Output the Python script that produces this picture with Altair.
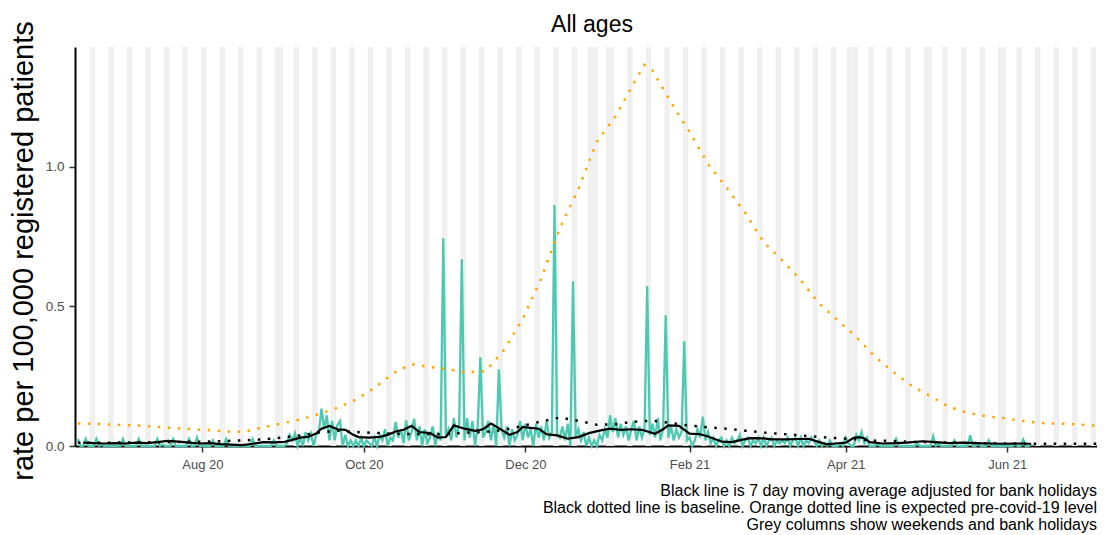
import altair as alt
import pandas as pd

# ---------------- data ----------------
teal_start = "2020-06-15"  # Monday; values below are daily, one row per week (Mon..Sun)
teal_daily = [
    0.025, 0.0, 0.0, 0.025, 0.0, 0.0, 0.0,
    0.025, 0.0, 0.005, 0.0, 0.0, 0.0, 0.0,
    0.0, 0.0, 0.0, 0.025, 0.0, 0.0, 0.0,
    0.0, 0.0, 0.025, 0.0, 0.0, 0.0, 0.0,
    0.0, 0.0, 0.025, 0.0, 0.005, 0.0, 0.0,
    0.0, 0.025, 0.0, 0.0, 0.0, 0.0, 0.0,
    0.025, 0.0, 0.0, 0.03, 0.0, 0.0, 0.0,
    0.0, 0.0, 0.02, 0.0, 0.0, 0.0, 0.0,
    0.025, 0.0, 0.0, 0.0, 0.0, 0.0, 0.0,
    0.0, 0.0, 0.0, 0.025, 0.0, 0.0, 0.0,
    0.0, 0.0, 0.0, 0.0, 0.02, 0.0, 0.0,
    0.0, 0.0, 0.01, 0.04, 0.02, 0.045, 0.0,
    0.03, 0.0, 0.05, 0.02, 0.045, 0.0, 0.04,
    0.05, 0.134, 0.06, 0.11, 0.02, 0.09, 0.02,
    0.075, 0.09, 0.0, 0.04, 0.0, 0.02, 0.0,
    0.02, 0.0, 0.03, 0.0, 0.02, 0.01, 0.0,
    0.03, 0.0, 0.04, 0.02, 0.06, 0.0, 0.03,
    0.02, 0.086, 0.03, 0.06, 0.01, 0.092, 0.02,
    0.05, 0.098, 0.02, 0.07, 0.0, 0.06, 0.01,
    0.03, 0.07, 0.0, 0.05, 0.02, 0.744, 0.03,
    0.06, 0.02, 0.10, 0.03, 0.08, 0.669, 0.02,
    0.10, 0.03, 0.09, 0.0, 0.07, 0.318, 0.03,
    0.05, 0.09, 0.02, 0.08, 0.0, 0.275, 0.06,
    0.03, 0.07, 0.0, 0.06, 0.02, 0.04, 0.09,
    0.02, 0.08, 0.03, 0.06, 0.0, 0.08, 0.03,
    0.07, 0.02, 0.09, 0.03, 0.05, 0.863, 0.04,
    0.03, 0.07, 0.02, 0.08, 0.0, 0.59, 0.03,
    0.06, 0.02, 0.05, 0.0, 0.03, 0.0, 0.02,
    0.0, 0.04, 0.02, 0.06, 0.03, 0.11, 0.05,
    0.10, 0.03, 0.08, 0.04, 0.07, 0.02, 0.06,
    0.09, 0.02, 0.07, 0.03, 0.06, 0.573, 0.04,
    0.08, 0.03, 0.10, 0.02, 0.06, 0.468, 0.03,
    0.07, 0.02, 0.06, 0.03, 0.05, 0.375, 0.02,
    0.03, 0.0, 0.02, 0.06, 0.03, 0.105, 0.02,
    0.05, 0.01, 0.03, 0.0, 0.02, 0.03, 0.0,
    0.02, 0.0, 0.03, 0.01, 0.02, 0.04, 0.0,
    0.02, 0.03, 0.0, 0.02, 0.01, 0.03, 0.0,
    0.03, 0.0, 0.02, 0.03, 0.0, 0.02, 0.01,
    0.02, 0.01, 0.03, 0.0, 0.02, 0.03, 0.0,
    0.03, 0.0, 0.02, 0.01, 0.03, 0.02, 0.0,
    0.02, 0.0, 0.01, 0.0, 0.02, 0.0, 0.0,
    0.0, 0.01, 0.0, 0.03, 0.01, 0.0, 0.0,
    0.04, 0.02, 0.05, 0.01, 0.03, 0.0, 0.0,
    0.0, 0.01, 0.0, 0.0, 0.0, 0.0, 0.0,
    0.0, 0.025, 0.0, 0.0, 0.0, 0.0, 0.0,
    0.0, 0.0, 0.01, 0.0, 0.0, 0.0, 0.0,
    0.0, 0.035, 0.0, 0.01, 0.0, 0.0, 0.0,
    0.0, 0.0, 0.02, 0.0, 0.0, 0.0, 0.0,
    0.0, 0.038, 0.0, 0.0, 0.01, 0.0, 0.0,
    0.0, 0.02, 0.0, 0.0, 0.0, 0.0, 0.0,
    0.0, 0.0, 0.0, 0.0, 0.005, 0.0, 0.0,
    0.023, 0.0, 0.0, 0.008,
]

ma_dates = [
    "2020-06-17", "2020-06-21", "2020-06-25", "2020-06-29", "2020-07-03", "2020-07-07",
    "2020-07-11", "2020-07-15", "2020-07-19", "2020-07-23", "2020-07-27", "2020-07-31",
    "2020-08-04", "2020-08-08", "2020-08-12", "2020-08-16", "2020-08-20", "2020-08-24",
    "2020-08-28", "2020-09-01", "2020-09-04", "2020-09-07", "2020-09-10", "2020-09-13",
    "2020-09-15", "2020-09-18", "2020-09-21", "2020-09-24", "2020-09-27", "2020-09-29",
    "2020-10-03", "2020-10-07", "2020-10-10", "2020-10-13", "2020-10-16", "2020-10-19",
    "2020-10-22", "2020-10-26", "2020-10-29", "2020-11-01", "2020-11-04", "2020-11-08",
    "2020-11-12", "2020-11-15", "2020-11-18", "2020-11-21", "2020-11-25", "2020-11-28",
    "2020-11-30", "2020-12-03", "2020-12-06", "2020-12-09", "2020-12-13", "2020-12-17",
    "2020-12-21", "2020-12-25", "2020-12-29", "2021-01-02", "2021-01-06", "2021-01-10",
    "2021-01-14", "2021-01-19", "2021-01-22", "2021-01-24", "2021-01-28", "2021-02-01",
    "2021-02-05", "2021-02-08", "2021-02-13", "2021-02-17", "2021-02-21", "2021-02-24",
    "2021-03-01", "2021-03-04", "2021-03-10", "2021-03-14", "2021-03-18", "2021-03-22",
    "2021-03-25", "2021-03-28", "2021-04-01", "2021-04-04", "2021-04-06", "2021-04-08",
    "2021-04-10", "2021-04-15", "2021-04-20", "2021-04-24", "2021-04-30", "2021-05-05",
    "2021-05-10", "2021-05-15", "2021-05-20", "2021-05-25", "2021-05-30", "2021-06-04",
    "2021-06-10",
]
ma_values = [
    0.012, 0.010, 0.009, 0.010, 0.009, 0.012,
    0.010, 0.014, 0.018, 0.016, 0.012, 0.009,
    0.010, 0.007, 0.005, 0.003, 0.008, 0.014,
    0.013, 0.015, 0.022, 0.030, 0.033, 0.045,
    0.062, 0.072, 0.060, 0.058, 0.040, 0.032,
    0.030, 0.033, 0.040, 0.052, 0.058, 0.072,
    0.050, 0.046, 0.030, 0.032, 0.074, 0.062,
    0.054, 0.060, 0.080, 0.064, 0.040, 0.050,
    0.068, 0.065, 0.062, 0.042, 0.038, 0.026,
    0.032, 0.046, 0.055, 0.062, 0.058, 0.060,
    0.058, 0.044, 0.060, 0.074, 0.072, 0.044,
    0.042, 0.034, 0.016, 0.014, 0.023, 0.028,
    0.027, 0.024, 0.024, 0.025, 0.026, 0.014,
    0.006, 0.009, 0.012, 0.029, 0.032, 0.028,
    0.014, 0.009, 0.010, 0.012, 0.017, 0.014,
    0.010, 0.012, 0.010, 0.009, 0.008, 0.009,
    0.008,
]

weekly_start = "2020-06-15"  # weekly (Mondays) readings for the two dotted lines
baseline_weekly = [
    0.012, 0.012, 0.012, 0.013, 0.013, 0.014, 0.015, 0.016, 0.018, 0.020,
    0.024, 0.030, 0.038, 0.048, 0.055, 0.050, 0.047, 0.044, 0.043, 0.042,
    0.043, 0.048, 0.050, 0.058, 0.072, 0.088, 0.102, 0.090, 0.076, 0.078,
    0.087, 0.091, 0.082, 0.073, 0.067, 0.062, 0.055, 0.048, 0.043, 0.038,
    0.032, 0.028, 0.024, 0.019, 0.018, 0.014, 0.014, 0.012, 0.011, 0.010,
    0.009, 0.008, 0.008, 0.008, 0.008, 0.008,
]
expected_weekly = [
    0.081, 0.079, 0.076, 0.074, 0.070, 0.065, 0.061, 0.057, 0.052, 0.051,
    0.067, 0.081, 0.095, 0.114, 0.137, 0.166, 0.208, 0.260, 0.293, 0.283,
    0.274, 0.264, 0.268, 0.345, 0.455, 0.600, 0.780, 0.920, 1.090, 1.180,
    1.300, 1.345, 1.230, 1.125, 1.010, 0.925, 0.835, 0.730, 0.665, 0.594,
    0.510, 0.450, 0.390, 0.320, 0.265, 0.215, 0.178, 0.140, 0.119, 0.107,
    0.099, 0.090, 0.082, 0.080, 0.077, 0.072,
]
expected_peak = ("2021-01-15", 1.365)

bank_holidays = ["2020-08-31", "2020-12-25", "2020-12-28", "2021-01-01",
                 "2021-04-02", "2021-04-05", "2021-05-03", "2021-05-31"]
columns_range = ("2020-06-15", "2021-07-07")

tick_dates = [(2020, 8), (2020, 10), (2020, 12), (2021, 2), (2021, 4), (2021, 6)]
y_ticks = [0.0, 0.5, 1.0]

chart_title = "All ages"
y_title = "rate per 100,000 registered patients"
caption_lines = [
    "Black line is 7 day moving average adjusted for bank holidays",
    "Black dotted line is baseline. Orange dotted line is expected pre-covid-19 level",
    "Grey columns show weekends and bank holidays",
]

# ---------------- tables ----------------
teal_df = pd.DataFrame({
    "date": pd.date_range(teal_start, periods=len(teal_daily), freq="D").strftime("%Y-%m-%d"),
    "value": teal_daily,
})
ma_df = pd.DataFrame({"date": ma_dates, "value": ma_values})
wk = pd.date_range(weekly_start, periods=len(baseline_weekly), freq="7D").strftime("%Y-%m-%d")
base_df = pd.DataFrame({"date": wk, "value": baseline_weekly})
exp_df = pd.DataFrame({"date": list(wk) + [expected_peak[0]],
                       "value": expected_weekly + [expected_peak[1]]}).sort_values("date")

days = pd.date_range(*columns_range, freq="D")
col_days = [d for d in days if d.weekday() >= 5 or d.strftime("%Y-%m-%d") in bank_holidays]
cols_df = pd.DataFrame({
    "start": [(d - pd.Timedelta(hours=12)).strftime("%Y-%m-%dT%H:%M:%SZ") for d in col_days],
    "end": [(d + pd.Timedelta(hours=12)).strftime("%Y-%m-%dT%H:%M:%SZ") for d in col_days],
})

W, H = 1022, 399
FONT = "Liberation Sans"

xscale = alt.Scale(type="utc",
                   domain=[alt.DateTime(year=2020, month=6, date=13, hours=22, utc=True),
                           alt.DateTime(year=2021, month=7, date=4, hours=21, utc=True)])
yscale = alt.Scale(domain=[0, 1.429], nice=False, zero=True)

xaxis = alt.Axis(
    values=[alt.DateTime(year=y, month=m, date=1, utc=True) for y, m in tick_dates],
    format="%b %y", title=None, grid=False,
    labelFont=FONT, labelFontSize=13, labelColor="#4d4d4d", labelPadding=6,
    tickColor="#333333", tickSize=6, tickWidth=1.5,
    domainColor="black", domainWidth=2,
)
yaxis = alt.Axis(
    values=y_ticks, format=".1f", grid=False,
    labelFont=FONT, labelFontSize=13.5, labelColor="#4d4d4d", labelPadding=5,
    tickColor="#333333", tickSize=6, tickWidth=1.5,
    domainColor="black", domainWidth=2,
    title=y_title, titleFont=FONT, titleFontSize=29, titleFontWeight="normal",
    titleColor="black", titleAngle=270, titleX=-43, titleY=H / 2 + 4,
    titleAlign="center", titleBaseline="alphabetic",
)

cols = alt.Chart(cols_df).mark_rect(color="#efefef").encode(
    x=alt.X("start:T", scale=xscale, axis=xaxis),
    x2="end:T",
    y=alt.value(0), y2=alt.value(H),
)


def line_layer(df, **mark):
    return alt.Chart(df).mark_line(**mark).encode(
        x=alt.X("date:T", scale=xscale, axis=xaxis),
        y=alt.Y("value:Q", scale=yscale, axis=yaxis),
    )


teal = line_layer(teal_df, color="#4CC9B0", strokeWidth=2.3)
orange = line_layer(exp_df, color="#FFA500", strokeWidth=2.5, strokeDash=[2.5, 7.5])
baseline = line_layer(base_df, color="black", strokeWidth=2.5, strokeDash=[2.5, 7.5])
ma = line_layer(ma_df, color="black", strokeWidth=2.2)

title_txt = alt.Chart(pd.DataFrame({"t": [chart_title]})).mark_text(
    font=FONT, fontSize=23, color="black", align="center", baseline="middle"
).encode(x=alt.value(517), y=alt.value(-22), text="t:N")

cap_layers = []
for i, line in enumerate(caption_lines):
    cap_layers.append(
        alt.Chart(pd.DataFrame({"t": [line]})).mark_text(
            font=FONT, fontSize=16, color="black", align="right", baseline="middle"
        ).encode(x=alt.value(W), y=alt.value(H + 45 + 17 * i), text="t:N")
    )

chart = alt.layer(cols, teal, orange, baseline, ma, title_txt, *cap_layers).properties(
    width=W, height=H,
    autosize=alt.AutoSizeParams(type="none"),
    padding={"left": 67, "top": 39, "right": 0, "bottom": 89},
).configure(font=FONT).configure_view(stroke=None)

chart.save("out.html", embed_options={"renderer": "svg", "actions": False})
